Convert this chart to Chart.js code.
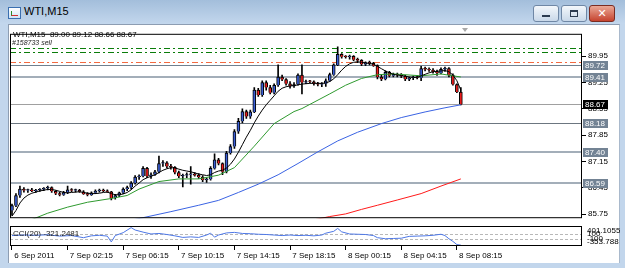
<!DOCTYPE html>
<html><head><meta charset="utf-8">
<script src="https://cdn.jsdelivr.net/npm/chart.js@4.4.1/dist/chart.umd.min.js"></script>
<style>
html,body{margin:0;padding:0;}
body{width:625px;height:268px;position:relative;overflow:hidden;background:#c2d6ec;font-family:"Liberation Sans",Arial,sans-serif;}
#titlebar{position:absolute;left:0;top:0;width:625px;height:24px;background:linear-gradient(#a3bedb,#c3d7ed);}
#ttl{position:absolute;left:24px;top:5px;font:11px "Liberation Sans",Arial,sans-serif;color:#000;}
#icon{position:absolute;left:8px;top:7px;width:11px;height:10px;border:1px solid #3a6fb0;background:linear-gradient(#ffffff,#cfe3f7);}
#icon:after{content:"";position:absolute;left:2px;top:3px;width:6px;height:4px;border-left:1px solid #2a8a2a;border-bottom:1px solid #d03030;}
.btn{position:absolute;top:5px;width:24px;height:15px;border:1px solid #6f87a5;border-radius:3px;background:linear-gradient(#f3f7fb,#c9d8e9);}
#bmin{left:533px}#bmax{left:561px}
#bclose{left:589px;border-color:#7a2c22;background:linear-gradient(#eaa896,#c6432e);}
#bmin:after{content:"";position:absolute;left:8px;top:9px;width:8px;height:2px;background:#2c3b50;}
#bmax:after{content:"";position:absolute;left:8px;top:4px;width:6px;height:4px;border:1px solid #2c3b50;border-top-width:2px;}
#bclose span{position:absolute;left:0;top:0;width:24px;text-align:center;font:bold 11px "DejaVu Sans",sans-serif;color:#fff;line-height:15px;}
#panel{position:absolute;left:8px;top:24px;width:610px;height:238px;background:#fff;border-left:1px solid #8d9db2;border-top:1px solid #8d9db2;border-right:1px solid #a9b9cc;}
#hdr{position:absolute;left:13px;top:30px;font:8px "Liberation Sans",Arial,sans-serif;white-space:pre;color:#000;}
#ord{position:absolute;left:12px;top:39px;font:italic 7px "Liberation Sans",Arial,sans-serif;white-space:pre;color:#222;}
#cciT{position:absolute;left:13px;top:229px;font:8px "Liberation Sans",Arial,sans-serif;white-space:pre;color:#222;}
#shift{position:absolute;left:462px;top:28px;width:0;height:0;border-left:3px solid transparent;border-right:3px solid transparent;border-top:4px solid #a8a8a8;}
canvas{position:absolute;}
#cMain{left:10px;top:27px;}
#cCci{left:10px;top:226px;}
</style></head>
<body>
<div id="titlebar"></div>
<div id="icon"></div>
<div id="ttl">WTI,M15</div>
<div class="btn" id="bmin"></div>
<div class="btn" id="bmax"></div>
<div class="btn" id="bclose"><span>✕</span></div>
<div id="panel"></div>
<canvas id="cMain" width="610" height="198"></canvas>
<canvas id="cCci" width="610" height="34"></canvas>
<div id="hdr">WTI,M15  89.00 89.12 88.66 88.67</div>
<div id="ord">#158733 sell</div>
<div id="cciT">CCI(20) -321.2481</div>
<div id="shift"></div>
<script>
// ---------- DATA ----------
const openP  = [85.85,85.98,86.25,86.42,86.38,86.40,86.37,86.39,86.41,86.44,86.46,86.36,86.30,86.27,86.33,86.40,86.38,86.39,86.35,86.30,86.27,86.32,86.37,86.39,86.37,86.35,86.18,86.25,86.32,86.42,86.46,86.58,86.74,86.76,86.97,86.76,86.80,86.88,87.10,87.12,87.02,87.00,86.86,86.76,86.78,86.80,86.82,86.79,86.74,86.66,86.68,86.97,87.20,87.10,86.88,87.38,87.55,87.95,88.22,88.48,88.35,88.47,89.05,88.92,89.25,89.12,88.98,89.18,89.40,89.33,89.22,89.16,89.20,89.45,89.25,89.28,89.27,89.22,89.20,89.22,89.30,89.46,89.72,90.00,89.94,89.93,89.95,89.86,89.84,89.74,89.78,89.76,89.70,89.40,89.34,89.52,89.43,89.47,89.45,89.42,89.34,89.37,89.40,89.38,89.62,89.60,89.58,89.54,89.50,89.60,89.62,89.45,89.20,89.00];
const highP  = [86.02,86.30,86.50,86.46,86.42,86.44,86.41,86.43,86.46,86.50,86.48,86.38,86.34,86.36,86.50,86.43,86.42,86.41,86.38,86.33,86.35,86.40,86.42,86.42,86.40,86.36,86.28,86.34,86.45,86.50,86.62,86.78,86.80,87.02,87.00,86.85,86.92,87.30,87.18,87.15,87.08,87.02,86.90,86.82,86.85,87.02,86.86,86.83,86.78,86.72,87.02,87.36,87.24,87.12,87.42,87.60,88.00,88.30,88.55,88.52,88.52,89.12,89.10,89.30,89.30,89.18,89.22,89.72,89.45,89.36,89.28,89.25,89.48,89.72,89.32,89.31,89.30,89.26,89.25,89.35,89.50,89.75,90.20,90.02,89.97,89.98,89.97,89.90,89.86,89.80,89.82,89.79,89.72,89.46,89.56,89.55,89.50,89.50,89.49,89.44,89.40,89.42,89.44,89.68,89.66,89.64,89.62,89.58,89.64,89.66,89.65,89.48,89.22,89.12];
const lowP   = [85.72,85.95,86.20,86.34,86.33,86.35,86.33,86.36,86.38,86.40,86.33,86.27,86.24,86.25,86.30,86.35,86.34,86.33,86.28,86.24,86.25,86.30,86.34,86.35,86.33,86.13,86.15,86.22,86.30,86.38,86.42,86.55,86.68,86.74,86.72,86.70,86.78,86.85,87.02,86.98,86.95,86.82,86.72,86.48,86.72,86.55,86.76,86.70,86.62,86.60,86.66,86.95,87.06,86.80,86.85,87.35,87.50,87.90,88.18,88.30,88.30,88.45,88.88,88.88,89.05,88.95,88.95,89.15,89.30,89.18,89.10,89.12,89.18,88.95,89.22,89.24,89.18,89.16,89.14,89.15,89.28,89.44,89.70,89.90,89.90,89.87,89.83,89.78,89.70,89.70,89.72,89.68,89.35,89.30,89.32,89.40,89.40,89.40,89.38,89.30,89.30,89.33,89.35,89.30,89.56,89.55,89.50,89.44,89.48,89.55,89.40,89.18,88.98,88.66];
const closeP = [85.98,86.25,86.42,86.38,86.40,86.37,86.39,86.41,86.44,86.46,86.36,86.30,86.27,86.33,86.40,86.38,86.39,86.35,86.30,86.27,86.32,86.37,86.39,86.37,86.35,86.18,86.25,86.32,86.42,86.46,86.58,86.74,86.76,86.97,86.76,86.80,86.88,87.10,87.12,87.02,87.00,86.86,86.76,86.78,86.80,86.82,86.79,86.74,86.66,86.68,86.97,87.20,87.10,86.88,87.38,87.55,87.95,88.22,88.48,88.35,88.47,89.05,88.92,89.25,89.12,88.98,89.18,89.40,89.33,89.22,89.16,89.20,89.45,89.25,89.28,89.27,89.22,89.20,89.22,89.30,89.46,89.72,90.00,89.94,89.93,89.95,89.86,89.84,89.74,89.78,89.76,89.70,89.40,89.34,89.52,89.43,89.47,89.45,89.42,89.34,89.37,89.40,89.38,89.62,89.60,89.58,89.54,89.50,89.60,89.62,89.45,89.20,89.00,88.67];
const maFast = [85.70,85.85,86.05,86.18,86.26,86.31,86.34,86.37,86.39,86.41,86.41,86.39,86.36,86.33,86.32,86.33,86.34,86.35,86.33,86.31,86.30,86.30,86.31,86.33,86.34,86.30,86.27,86.27,86.29,86.33,86.40,86.50,86.58,86.67,86.72,86.76,86.80,86.86,86.92,86.96,86.99,86.98,86.95,86.92,86.90,86.88,86.85,86.82,86.80,86.78,86.80,86.86,86.90,86.92,86.98,87.08,87.22,87.40,87.60,87.80,87.98,88.18,88.36,88.52,88.66,88.78,88.90,89.02,89.10,89.14,89.16,89.17,89.19,89.21,89.22,89.23,89.23,89.23,89.23,89.24,89.28,89.35,89.46,89.58,89.68,89.75,89.79,89.80,89.79,89.77,89.76,89.74,89.68,89.62,89.56,89.51,89.47,89.45,89.44,89.42,89.40,89.39,89.39,89.43,89.47,89.51,89.54,89.55,89.56,89.57,89.54,89.45,89.30,89.05];
const maMidIdx = [0,5,9,14,19,25,29,32,37,42,47,52,56,61,66,71,73,80,84,88,92,96,103,108,111,113];
const maMidVal = [85.30,85.61,85.78,85.94,86.07,86.17,86.25,86.42,86.62,86.69,86.69,86.79,86.99,87.56,88.16,88.48,88.56,88.95,89.18,89.36,89.46,89.48,89.43,89.48,89.43,89.40];
const maSlowIdx = [28,33,40,47,52,57,62,67,72,77,82,87,93,98,104,109,113];
const maSlowVal = [85.55,85.66,85.82,85.99,86.12,86.33,86.55,86.80,87.10,87.41,87.70,87.93,88.16,88.32,88.47,88.58,88.66];
const maLongIdx = [75,80,84,88,92,97,103,108,113];
const maLongVal = [85.58,85.69,85.76,85.88,85.99,86.13,86.30,86.50,86.69];
const cciIdx = [0,3,6,9,12,15,18,20,22,24,25,26,28,30,31,33,35,37,39,41,43,45,47,49,50,51,52,54,56,58,60,62,64,66,68,70,72,74,76,78,79,81,82,83,85,87,89,91,92,94,96,98,100,102,104,106,108,109,110,111,112,113];
const cciVal = [40,60,50,70,20,40,-40,30,50,20,-200,40,150,340,250,170,100,120,80,30,-30,-10,-30,60,130,-20,60,140,160,120,110,90,80,60,40,60,40,50,30,60,130,200,310,180,100,90,80,40,-40,-80,-70,-60,10,20,30,50,90,40,-80,-180,-300,-321.2481];
const timeTickIdx = [0,14,28,42,56,70,84,98,112];
const timeTickLabels = ['6 Sep 2011','7 Sep 02:15','7 Sep 06:15','7 Sep 10:15','7 Sep 14:15','7 Sep 18:15','8 Sep 00:15','8 Sep 04:15','8 Sep 08:15'];
const priceTicks = [85.75,86.45,87.15,87.85,88.55,89.25,89.95];
const priceRange = [85.646, 90.547];
const hLevels = [89.72, 89.41, 88.18, 87.40, 86.59];
const bidLevel = 88.67;
const orderLevels = [90.17, 90.05];
const stopLevels = [89.80];
const cciLevels = [100, -100];
const cciRange = [-353.788, 401.1055];
const xRange = [-0.5, 143.5];

// ---------- STYLE ----------
const FONT = {family:'"Liberation Sans", Arial, sans-serif', size:8};
const hLevelColors = ['#70808f','#a3aeb9','#6c7680','#a3aeb9','#a3aeb9'];
const hLevelWidths = [1,2,1,2,2];
const labelBoxColors = ['#738394','#738394','#738394','#738394','#738394'];

const mainDecor = {
  id:'mainDecor',
  beforeDatasetsDraw(chart){
    const {ctx, chartArea:a, scales:{y}} = chart;
    ctx.save();
    hLevels.forEach((v,k)=>{
      const py = Math.round(y.getPixelForValue(v)) + (hLevelWidths[k]%2 ? 0.5 : 0);
      ctx.strokeStyle = hLevelColors[k]; ctx.lineWidth = hLevelWidths[k];
      ctx.beginPath(); ctx.moveTo(a.left, py); ctx.lineTo(a.right, py); ctx.stroke();
    });
    let py = Math.round(y.getPixelForValue(bidLevel)) + 0.5;
    ctx.strokeStyle = '#a0a0a0'; ctx.lineWidth = 1;
    ctx.beginPath(); ctx.moveTo(a.left, py); ctx.lineTo(a.right, py); ctx.stroke();
    ctx.setLineDash([6,3,2,3]);
    orderLevels.forEach(v=>{
      const p = Math.round(y.getPixelForValue(v)) + 0.5;
      ctx.strokeStyle = '#0a7d0a';
      ctx.beginPath(); ctx.moveTo(a.left, p); ctx.lineTo(a.right, p); ctx.stroke();
    });
    stopLevels.forEach(v=>{
      const p = Math.round(y.getPixelForValue(v)) + 0.5;
      ctx.strokeStyle = '#f26a40';
      ctx.beginPath(); ctx.moveTo(a.left, p); ctx.lineTo(a.right, p); ctx.stroke();
    });
    ctx.restore();
  },
  afterDraw(chart){
    const {ctx, chartArea:a, scales:{y}} = chart;
    ctx.save();
    ctx.strokeStyle = '#000'; ctx.lineWidth = 1;
    ctx.strokeRect(a.left+0.5, a.top+0.5, a.width-1, a.height-1);
    ctx.font = '8px "Liberation Sans", Arial, sans-serif';
    ctx.textBaseline = 'middle';
    const drawBox = (v, bg) => {
      const py = Math.round(y.getPixelForValue(v));
      ctx.fillStyle = bg; ctx.fillRect(a.right+1, py-4, 25, 9);
      ctx.fillStyle = '#fff'; ctx.fillText(v.toFixed(2), a.right+3, py+0.5);
    };
    hLevels.forEach((v,k)=>drawBox(v, labelBoxColors[k]));
    drawBox(bidLevel, '#000');
    ctx.restore();
  }
};

const cciDecor = {
  id:'cciDecor',
  beforeDatasetsDraw(chart){
    const {ctx, chartArea:a, scales:{y}} = chart;
    ctx.save();
    ctx.setLineDash([3,2]); ctx.strokeStyle = '#b8b8b8'; ctx.lineWidth = 1;
    cciLevels.forEach(v=>{
      const p = Math.round(y.getPixelForValue(v)) + 0.5;
      ctx.beginPath(); ctx.moveTo(a.left, p); ctx.lineTo(a.right, p); ctx.stroke();
    });
    ctx.restore();
  },
  afterDraw(chart){
    const {ctx, chartArea:a, scales:{y}} = chart;
    ctx.save();
    ctx.strokeStyle = '#000'; ctx.lineWidth = 1;
    ctx.strokeRect(a.left+0.5, a.top+0.5, a.width-1, a.height-1);
    ctx.font = '8px "Liberation Sans", Arial, sans-serif';
    ctx.fillStyle = '#000';
    const lx = a.right + 5;
    ctx.textBaseline = 'top'; ctx.fillText(cciRange[1].toFixed(4), lx, a.top+1);
    ctx.textBaseline = 'middle';
    cciLevels.forEach(v=>ctx.fillText(String(v), lx, y.getPixelForValue(v)));
    ctx.textBaseline = 'bottom'; ctx.fillText(cciRange[0].toFixed(3), lx, a.bottom);
    ctx.restore();
  }
};

const bull = '#3b5fd6', bear = '#ee1d1d';
const bodyColors = openP.map((o,i)=> closeP[i] >= o ? bull : bear);

new Chart(document.getElementById('cMain'), {
  type:'bar',
  data:{datasets:[
    {type:'line', data:maFast.map((v,i)=>({x:i,y:v})), borderColor:'#000', borderWidth:1, pointRadius:0, order:0},
    {type:'line', data:maMidIdx.map((x,k)=>({x,y:maMidVal[k]})), borderColor:'#2f9a2f', borderWidth:1, pointRadius:0, order:0},
    {type:'line', data:maSlowIdx.map((x,k)=>({x,y:maSlowVal[k]})), borderColor:'#3a63e3', borderWidth:1, pointRadius:0, order:0},
    {type:'line', data:maLongIdx.map((x,k)=>({x,y:maLongVal[k]})), borderColor:'#ff1a1a', borderWidth:1, pointRadius:0, order:0},
    {type:'bar', data:openP.map((o,i)=>({x:i,y:[o,closeP[i]]})), backgroundColor:bodyColors, borderColor:'#000', borderWidth:1, barThickness:3, minBarLength:1, grouped:false, order:1},
    {type:'bar', data:lowP.map((l,i)=>({x:i,y:[l,highP[i]]})), backgroundColor:'#000', borderWidth:0, barThickness:1, grouped:false, order:2}
  ]},
  options:{
    responsive:false, animation:false, events:[],
    layout:{padding:0},
    plugins:{legend:{display:false}, tooltip:{enabled:false}},
    scales:{
      x:{type:'linear', min:xRange[0], max:xRange[1], display:false, offset:false},
      y:{position:'right', min:priceRange[0], max:priceRange[1],
         afterBuildTicks:s=>{ s.ticks = priceTicks.map(v=>({value:v})); },
         afterFit:s=>{ s.width = 38; },
         border:{display:false},
         grid:{drawOnChartArea:false, drawTicks:true, tickLength:4, color:'#000'},
         ticks:{font:FONT, color:'#000', padding:2, callback:v=>Number(v).toFixed(2)}}
    }
  },
  plugins:[mainDecor]
});

new Chart(document.getElementById('cCci'), {
  type:'line',
  data:{datasets:[
    {data:cciIdx.map((x,k)=>({x,y:cciVal[k]})), borderColor:'#4d77e6', borderWidth:1, pointRadius:0}
  ]},
  options:{
    responsive:false, animation:false, events:[],
    layout:{padding:0},
    plugins:{legend:{display:false}, tooltip:{enabled:false}},
    scales:{
      x:{type:'linear', min:xRange[0], max:xRange[1], offset:false,
         afterBuildTicks:s=>{ s.ticks = timeTickIdx.map(v=>({value:v})); },
         afterFit:s=>{ s.height = 14; },
         border:{display:false},
         grid:{drawOnChartArea:false, drawTicks:true, tickLength:4, color:'#000'},
         ticks:{font:FONT, color:'#000', padding:1, align:'start', autoSkip:false, maxRotation:0,
                callback:(v)=>{ const k = timeTickIdx.indexOf(v); return k>=0 ? ' '+timeTickLabels[k] : ''; }}},
      y:{position:'right', min:cciRange[0], max:cciRange[1],
         afterFit:s=>{ s.width = 38; },
         border:{display:false}, grid:{display:false}, ticks:{display:false}}
    }
  },
  plugins:[cciDecor]
});
</script>
</body></html>
